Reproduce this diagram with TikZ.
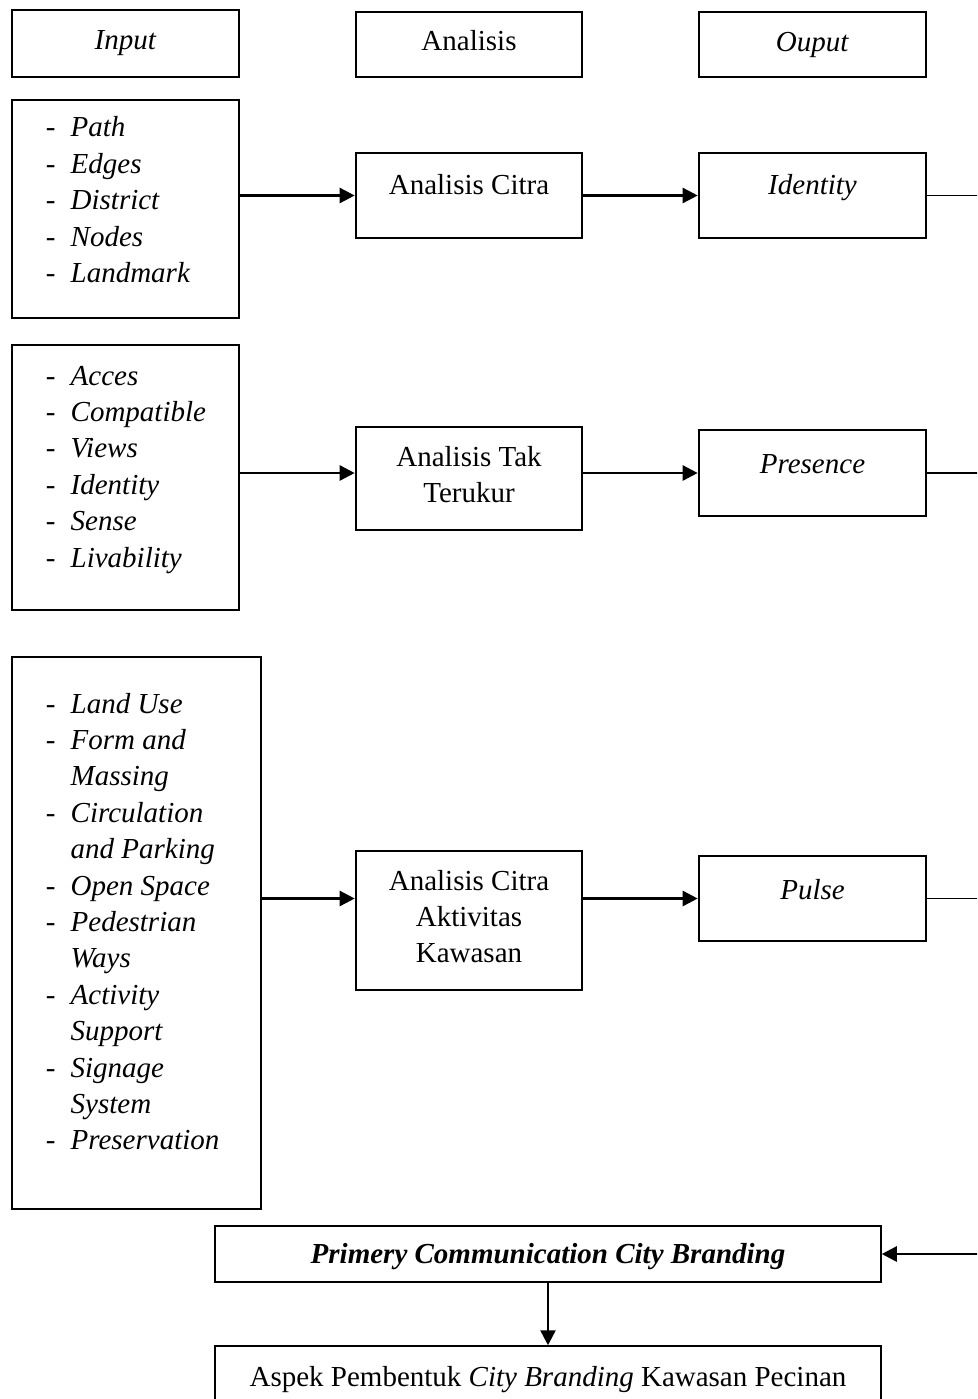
\documentclass[tikz,border=0pt]{standalone}
\usepackage{fontspec}
\setmainfont{Liberation Serif}
\usepackage{array}
\usetikzlibrary{positioning,arrows.meta}
\newcommand{\dashlist}[2]{\makebox[#1][l]{\hspace{34pt}\begin{tabular}[t]{@{}l@{\hspace{15pt}}>{\itshape}l@{}}#2\end{tabular}}}
\newcommand{\lines}[1]{\begin{tabular}[t]{@{}c@{}}#1\end{tabular}}

\begin{document}
\begin{tikzpicture}[x=1pt,y=-1pt,
  box/.style={rectangle,draw,line width=2.6pt,inner sep=0pt,font=\fontsize{29}{36.4}\selectfont},
  thinbox/.style={box,line width=1.5pt},
  tb/.style n args={2}{text height=#1,text depth=#2},
  conn/.style={-{Triangle[length=15pt,width=15pt]},line width=2.5pt},
  tail/.style={line width=1.3pt}]

  \useasboundingbox (0,0) rectangle (977,1399);
  \clip (0,0) rectangle (977,1399);

  % Kopfzeile
  \node[box,minimum width=227pt,tb={40pt}{27pt}] (inhead)  at (125.5,43.5) {\textit{Input}};
  \node[box,minimum width=226pt,tb={39pt}{26pt}] (anhead)  at (469,44.5)   {Analisis};
  \node[box,minimum width=227pt,tb={40pt}{25pt}] (outhead) at (812.5,44.5) {\textit{Ouput}};

  % Input
  \node[box,minimum width=227pt,tb={37pt}{181pt}] (list1) at (125.5,209)
    {\dashlist{227pt}{- & Path\\ - & Edges\\ - & District\\ - & Nodes\\ - & Landmark}};
  \node[box,minimum width=227pt,tb={40pt}{225pt}] (list2) at (125.5,477.5)
    {\dashlist{227pt}{- & Acces\\ - & Compatible\\ - & Views\\ - & Identity\\ - & Sense\\ - & Livability}};
  \node[box,minimum width=249pt,tb={56pt}{496pt}] (list3) at (136.5,933)
    {\dashlist{249pt}{- & Land Use\\ - & Form and\\ & Massing\\ - & Circulation\\ & and Parking\\ - & Open Space\\
      - & Pedestrian\\ & Ways\\ - & Activity\\ & Support\\ - & Signage\\ & System\\ - & Preservation}};

  % Analisis
  \node[box,minimum width=226pt,tb={42pt}{43pt}]  (citra)  at (469,195.5) {Analisis Citra};
  \node[box,minimum width=226pt,tb={39pt}{64pt}]  (takTer) at (469,478.5) {\lines{Analisis Tak\\Terukur}};
  \node[box,minimum width=226pt,tb={39pt}{100pt}] (aktiv)  at (469,920.5) {\lines{Analisis Citra\\Aktivitas\\Kawasan}};

  % Output
  \node[box,minimum width=227pt,tb={42pt}{43pt}] (identity) [right=343.5pt of citra.center,anchor=center] {\textit{Identity}};
  \node[box,minimum width=227pt,tb={43pt}{43pt}] (presence) [above right=5.5pt and 343.5pt of takTer.center,anchor=center] {\textit{Presence}};
  \node[box,minimum width=227pt,tb={43pt}{42pt}] (pulse)    [above right=22pt and 343.5pt of aktiv.center,anchor=center] {\textit{Pulse}};

  % unten
  \node[thinbox,minimum width=666pt,tb={37pt}{19pt}] (primery) at (548,1254)
    {\textbf{\textit{Primery Communication City Branding}}};
  \node[thinbox,minimum width=666pt,tb={40pt}{29pt}] (aspek) at (548,1380.5)
    {Aspek Pembentuk \textit{City Branding} Kawasan Pecinan};

  \coordinate (outR) at (990,0);

  \draw[conn] (list1.east |- citra.west) -- (citra);
  \draw[conn] (citra) -- (identity);
  \draw[conn] (list2.east |- presence.west) -- (takTer.west |- presence.west);
  \draw[conn] (takTer.east |- presence.west) -- (presence);
  \draw[conn] (list3.east |- pulse.west) -- (aktiv.west |- pulse.west);
  \draw[conn] (aktiv.east |- pulse.west) -- (pulse);

  \draw[tail] (identity.east) -- (identity.east -| outR);
  \draw[tail] (presence.east) -- (presence.east -| outR);
  \draw[tail] (pulse.east) -- (pulse.east -| outR);

  \draw[conn] (primery.east -| outR) -- (primery.east);
  \draw[conn] (primery) -- (aspek);

\end{tikzpicture}
\end{document}
